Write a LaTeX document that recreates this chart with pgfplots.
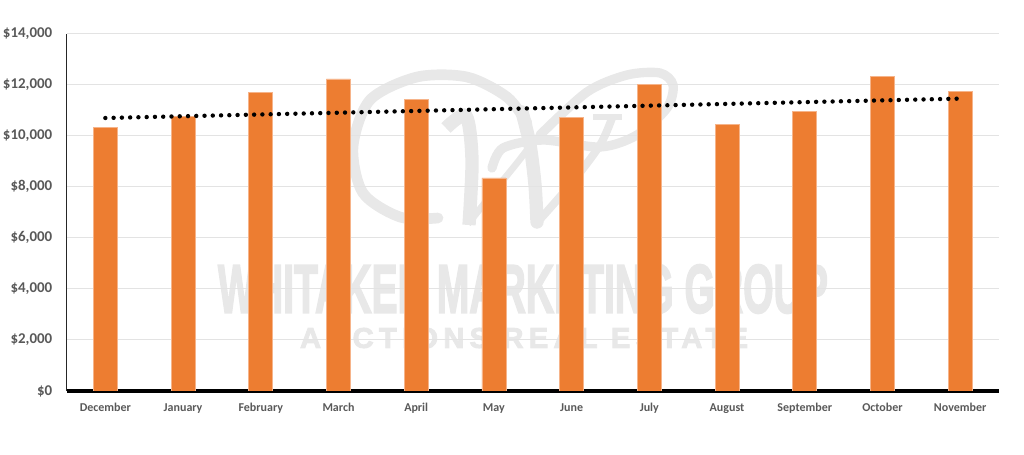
\documentclass[border=0pt]{standalone}
\usepackage{graphicx}
\usepackage{fontspec}
\setmainfont{Carlito}
\newfontfamily\wmfont[FakeBold=3]{Liberation Sans}
\newfontfamily\wmwide[LetterSpace=18,FakeBold=3]{Liberation Sans}
\usepackage{pgfplots}
\usepackage{pgfplotstable}
\pgfplotsset{compat=1.18}
\definecolor{barorange}{HTML}{ED7D31}
\definecolor{baredge}{HTML}{F6B48A}
\definecolor{gridgray}{HTML}{E3E3E3}
\definecolor{labelgray}{HTML}{595959}
\definecolor{wmgray}{HTML}{E8E8E8}

\pgfplotstableread{
x  y
0  10325
1  10740
2  11700
3  12220
4  11420
5  8340
6  10700
7  12020
8  10450
9  10960
10 12320
11 11720
}\salesdata

\pgfplotstableread{
x  y
0  10690
11 11450
}\trenddata

\begin{document}
\begin{tikzpicture}
  % watermark, in image pixels
  \begin{scope}[x=0.75pt,y=-0.75pt]
    \path (0,0) rectangle (1024,454);
    \node[inner sep=0pt,text=wmgray] at (523,289)
      {\resizebox{457.5pt}{36pt}{\wmfont\bfseries WHITAKER MARKETING GROUP}};
    \node[inner sep=0pt,text=wmgray] at (524,338)
      {\resizebox{336pt}{15pt}{\wmwide\bfseries AUCTIONS REAL ESTATE}};
    \draw[wmgray,line width=8pt,line cap=round] plot[smooth] coordinates
      {(438,218) (400,217) (363,193) (353,147) (370,100) (417,77) (467,77) (507,97) (527,123)};
    \draw[wmgray,line width=10pt,line cap=round] plot[smooth] coordinates
      {(522,112) (530,145) (535,185) (537,222)};
    \draw[wmgray,line width=10pt] plot[smooth] coordinates
      {(446,128) (466,116) (472,160) (469,225)};
    \draw[wmgray,line width=5pt] plot[smooth] coordinates
      {(468,224) (495,190) (517,163) (537,137)};
    \draw[wmgray,line width=6pt] plot[smooth] coordinates
      {(534,226) (570,185) (600,145) (612,118)};
    \draw[wmgray,line width=4pt] (593,117) -- (622,117);
    \draw[wmgray,line width=7pt,line cap=round] plot[smooth] coordinates
      {(492,168) (503,148) (543,140) (600,147) (637,135) (667,108) (673,85) (660,73) (627,75) (587,92) (540,135)};
  \end{scope}

  \begin{axis}[
      at={(49.875pt,-293.175pt)},
      anchor=south west,
      scale only axis,
      width=699.4pt,
      height=268.05pt,
      xmin=-0.5,
      xmax=11.5,
      ymin=0,
      ymax=14000,
      axis lines=left,
      x axis line style={-,black,line width=3.6pt},
      y axis line style={-,black!85,line width=0.8pt},
      xtick={0,...,11},
      xticklabels={December,January,February,March,April,May,June,July,August,September,October,November},
      ytick={0,2000,...,14000},
      scaled y ticks=false,
      major tick length=0pt,
      ymajorgrids,
      major grid style={gridgray,line width=0.8pt},
      yticklabel={\$\pgfmathprintnumber{\tick}},
      /pgf/number format/.cd,
        assume math mode=true,
        fixed,
        1000 sep={,},
      /pgfplots/.cd,
      yticklabel style={font=\fontsize{11.2}{12}\selectfont\bfseries,text=labelgray,inner sep=0pt,xshift=-10.5pt},
      xticklabel style={font=\fontsize{9}{10}\selectfont\bfseries,text=labelgray,inner sep=0pt,text height=6.5pt,text depth=2pt,yshift=-8.5pt},
    ]
    \addplot[ybar,bar width=18pt,fill=barorange,draw=baredge,line width=0.5pt] table[x=x,y=y] {\salesdata};
    \addplot[black,line width=3.3pt,line cap=round,dash pattern=on 0pt off 6.2pt] table[x=x,y=y] {\trenddata};
  \end{axis}
\end{tikzpicture}
\end{document}
